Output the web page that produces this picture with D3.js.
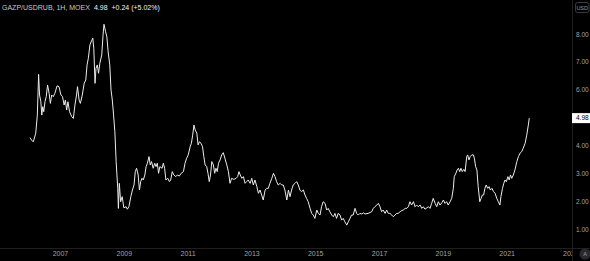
<!DOCTYPE html>
<html>
<head>
<meta charset="utf-8">
<script src="https://cdn.jsdelivr.net/npm/d3@7"></script>
<style>
  html, body { margin: 0; padding: 0; background: #000; }
  svg { display: block; font-family: "Liberation Sans", Arial, sans-serif; }
</style>
</head>
<body>
<svg width="590" height="261"></svg>
<script>
// GAZP/USDRUB, values (decimal years / price in USD)
let dates = [
  2006.06,2006.11,2006.16,2006.19,2006.24,2006.29,2006.33,2006.36,2006.40,2006.43,2006.46,2006.49,2006.53,2006.57,2006.61,2006.66,2006.70,2006.74,2006.79,2006.84,2006.91,2006.97,
  2007.03,2007.08,2007.13,2007.17,2007.21,2007.25,2007.30,2007.37,2007.42,2007.47,2007.52,2007.55,2007.60,2007.64,2007.70,2007.76,2007.81,2007.85,2007.89,2007.94,2007.99,
  2008.03,2008.06,2008.10,2008.13,2008.17,2008.21,2008.25,2008.31,2008.35,2008.38,2008.43,2008.47,2008.51,2008.56,2008.60,2008.64,2008.68,2008.72,2008.76,2008.81,2008.83,2008.86,2008.90,2008.95,
  2009.00,2009.07,2009.11,2009.16,2009.22,2009.27,2009.32,2009.36,2009.40,2009.45,2009.49,2009.53,2009.57,2009.61,2009.66,2009.70,2009.74,2009.79,2009.83,2009.87,2009.92,2009.97,
  2010.01,2010.05,2010.09,2010.13,2010.20,2010.24,2010.28,2010.32,2010.38,2010.43,2010.47,2010.52,2010.57,2010.63,2010.68,2010.74,2010.80,2010.87,2010.92,2010.97,
  2011.02,2011.08,2011.12,2011.16,2011.20,2011.24,2011.29,2011.33,2011.37,2011.42,2011.47,2011.51,2011.55,2011.60,2011.64,2011.68,2011.72,2011.76,2011.81,2011.85,2011.89,2011.93,2011.97,
  2012.02,2012.07,2012.12,2012.17,2012.23,2012.28,2012.33,2012.38,2012.45,2012.52,2012.57,2012.61,2012.65,2012.70,2012.75,2012.80,2012.85,2012.90,2012.96,
  2013.01,2013.06,2013.11,2013.17,2013.22,2013.27,2013.32,2013.37,2013.43,2013.48,2013.53,2013.58,2013.64,2013.69,2013.74,2013.79,2013.84,2013.90,2013.95,
  2014.00,2014.05,2014.11,2014.16,2014.21,2014.26,2014.31,2014.37,2014.42,2014.47,2014.52,2014.57,2014.63,2014.68,2014.73,2014.78,2014.84,2014.89,2014.94,2014.99,
  2015.05,2015.10,2015.15,2015.20,2015.25,2015.31,2015.36,2015.41,2015.46,2015.52,2015.57,2015.62,2015.67,2015.72,2015.78,2015.83,2015.88,2015.93,2015.99,
  2016.04,2016.09,2016.14,2016.19,2016.25,2016.30,2016.35,2016.40,2016.46,2016.51,2016.56,2016.66,2016.77,2016.82,2016.87,2016.93,2016.98,
  2017.03,2017.08,2017.13,2017.19,2017.24,2017.29,2017.34,2017.40,2017.45,2017.50,2017.55,2017.60,2017.66,2017.71,2017.76,2017.82,2017.87,2017.92,2017.97,
  2018.02,2018.08,2018.13,2018.18,2018.23,2018.29,2018.34,2018.39,2018.44,2018.50,2018.55,2018.60,2018.65,2018.70,2018.76,2018.81,2018.86,2018.91,2018.97,
  2019.02,2019.07,2019.12,2019.17,2019.23,2019.28,2019.33,2019.36,2019.41,2019.45,2019.49,2019.53,2019.57,2019.61,2019.66,2019.70,2019.75,2019.78,2019.82,2019.86,2019.91,2019.96,2019.99,
  2020.03,2020.07,2020.11,2020.16,2020.20,2020.24,2020.28,2020.32,2020.36,2020.41,2020.45,2020.49,2020.54,2020.59,2020.64,2020.69,2020.74,2020.79,2020.82,2020.87,2020.91,2020.95,2020.99,
  2021.04,2021.08,2021.12,2021.16,2021.21,2021.26,2021.32,2021.37,2021.42,2021.47,2021.52,2021.58,2021.63,2021.68,2021.71
];
let prices = [
  4.28,4.19,4.13,4.23,4.44,5.09,6.55,5.81,5.57,5.09,5.39,5.21,5.57,5.75,6.17,5.87,5.51,5.81,5.75,5.87,6.14,6.11,
  5.81,5.75,5.45,5.63,5.27,5.57,5.21,5.03,4.97,5.45,5.81,6.11,5.63,5.51,5.81,6.23,6.35,6.89,7.13,7.61,7.75,
  7.85,7.49,6.23,6.77,6.89,6.59,6.95,7.25,7.96,8.35,8.08,7.90,7.36,6.89,5.99,5.63,5.09,4.49,3.42,2.46,1.74,2.64,1.98,2.16,
  1.76,1.80,1.71,1.80,2.16,2.40,2.58,3.06,3.18,2.94,2.40,2.70,2.82,2.76,2.94,3.24,3.36,3.60,3.30,3.42,3.18,3.36,
  3.24,3.36,3.00,3.24,3.18,3.36,3.18,2.76,2.82,2.70,2.76,3.06,2.94,2.88,2.94,2.90,3.00,3.06,3.36,3.54,
  3.66,3.95,4.08,4.37,4.73,4.55,4.44,4.02,4.13,4.08,3.95,3.60,3.30,3.24,3.00,2.70,2.94,3.42,3.30,3.00,3.18,3.06,3.36,
  3.48,3.66,3.74,3.54,3.30,3.06,2.64,2.82,2.78,2.82,2.88,3.06,2.94,2.82,2.88,2.64,2.70,2.76,2.64,
  2.82,2.58,2.76,2.52,2.28,2.40,2.22,2.04,2.40,2.46,2.46,2.64,2.82,3.00,2.88,2.70,2.58,2.64,2.58,
  2.58,2.40,2.04,2.40,2.16,2.40,2.58,2.64,2.70,2.58,2.40,2.34,2.40,2.22,2.10,1.98,1.74,1.56,1.50,1.38,
  1.68,1.56,1.50,1.80,1.98,1.92,1.68,1.74,1.62,1.50,1.44,1.56,1.38,1.56,1.50,1.32,1.38,1.26,1.14,
  1.26,1.38,1.50,1.50,1.74,1.56,1.50,1.56,1.54,1.58,1.54,1.56,1.62,1.74,1.80,1.86,1.92,
  1.80,1.62,1.68,1.56,1.68,1.56,1.56,1.50,1.44,1.50,1.56,1.56,1.62,1.66,1.68,1.74,1.74,1.80,1.98,
  1.86,1.98,1.80,1.86,1.80,1.86,1.74,1.80,1.71,1.76,1.80,1.74,1.92,2.10,1.92,1.80,1.98,1.86,1.94,
  2.04,1.92,1.98,1.86,1.98,2.10,2.46,2.88,3.00,3.12,3.18,3.06,3.18,3.06,3.14,3.06,3.60,3.66,3.48,3.60,3.66,3.66,3.54,
  3.24,3.12,2.52,1.98,2.10,2.22,2.22,2.46,2.58,2.46,2.52,2.40,2.46,2.34,2.28,2.10,1.98,1.86,2.16,2.46,2.64,2.76,2.70,
  2.88,2.76,2.94,2.82,2.94,3.12,3.42,3.60,3.72,3.77,3.90,4.08,4.37,4.73,4.98
];
let yearTicks = [2007, 2009, 2011, 2013, 2015, 2017, 2019, 2021, 2023];
let priceTicks = [1, 2, 3, 4, 5, 6, 7, 8];
let title = "GAZP/USDRUB, 1H, MOEX";
let lastChange = "+0.24 (+5.02%)";

let width = 590, height = 261;
let plotW = 572, plotH = 248;

// decimal year -> Date
function fromDecimal(v) {
  let yr = Math.floor(v);
  let s = Date.UTC(yr, 0, 1), e = Date.UTC(yr + 1, 0, 1);
  return new Date(s + (v - yr) * (e - s));
}

let data = dates.map((d, i) => ({ date: fromDecimal(d), price: prices[i] }));

let svg = d3.select('svg');

svg.append('rect')
  .attr('width', width).attr('height', height)
  .attr('fill', '#000');

let x = d3.scaleUtc()
  .domain([fromDecimal(2005.119), fromDecimal(2023.05)])
  .range([0, plotW]);
let y = d3.scaleLinear()
  .domain([1, 8])
  .range([229, 34]);

// time axis
let xAxis = svg.append('g')
  .attr('transform', `translate(0,${plotH})`)
  .call(d3.axisBottom(x)
    .tickValues(yearTicks.map(t => new Date(Date.UTC(t, 0, 1))))
    .tickFormat(d3.utcFormat('%Y'))
    .tickSize(0)
    .tickPadding(3.5));
xAxis.select('.domain').remove();
xAxis.selectAll('text')
  .attr('fill', '#a3a3a3')
  .style('font-size', '7px');

// price line
svg.append('path')
  .datum(data)
  .attr('fill', 'none')
  .attr('stroke', '#ececec')
  .attr('stroke-width', 1)
  .attr('stroke-linejoin', 'round')
  .attr('d', d3.line()
    .x(d => x(d.date))
    .y(d => y(d.price)));

// price scale panel (hides what runs under it)
svg.append('rect')
  .attr('x', plotW).attr('y', 0)
  .attr('width', width - plotW).attr('height', height)
  .attr('fill', '#000');

svg.append('line')
  .attr('x1', 0).attr('x2', width)
  .attr('y1', plotH + 0.5).attr('y2', plotH + 0.5)
  .attr('stroke', '#1f1f1f');
svg.append('line')
  .attr('x1', plotW + 0.5).attr('x2', plotW + 0.5)
  .attr('y1', 0).attr('y2', height)
  .attr('stroke', '#1f1f1f');

let yAxis = svg.append('g')
  .attr('transform', `translate(${plotW},0)`)
  .call(d3.axisRight(y)
    .tickValues(priceTicks)
    .tickFormat(d3.format('.2f'))
    .tickSize(0)
    .tickPadding(4));
yAxis.select('.domain').remove();
yAxis.selectAll('text')
  .attr('fill', '#a3a3a3')
  .style('font-size', '6.5px');

// last price label
let last = data[data.length - 1];
svg.append('rect')
  .attr('x', plotW).attr('y', y(last.price) - 5)
  .attr('width', width - plotW).attr('height', 10)
  .attr('fill', '#fff');
svg.append('text')
  .attr('x', plotW + 4).attr('y', y(last.price))
  .attr('dy', '0.35em')
  .attr('fill', '#000')
  .style('font-size', '6.5px')
  .text(d3.format('.2f')(last.price));

// currency box
svg.append('rect')
  .attr('x', 575.5).attr('y', 2.5)
  .attr('width', 13.5).attr('height', 10)
  .attr('rx', 2)
  .attr('fill', 'none')
  .attr('stroke', '#3a3a3a');
svg.append('text')
  .attr('x', 582.2).attr('y', 9.6)
  .attr('text-anchor', 'middle')
  .attr('fill', '#9a9a9a')
  .style('font-size', '5.5px')
  .text('USD');

// auto scale button
svg.append('circle')
  .attr('cx', 585).attr('cy', 254).attr('r', 5.5)
  .attr('fill', '#2a2a2e');
svg.append('text')
  .attr('x', 585).attr('y', 256)
  .attr('text-anchor', 'middle')
  .attr('fill', '#9a9a9a')
  .style('font-size', '5.5px')
  .text('A');

// legend line
let legend = svg.append('text')
  .attr('x', 2).attr('y', 9.5)
  .style('font-size', '7px');
legend.append('tspan').attr('fill', '#c8c8c8').text(title);
legend.append('tspan').attr('dx', 4).attr('fill', '#f2f2f2').text(d3.format('.2f')(last.price));
legend.append('tspan').attr('dx', 4).attr('fill', '#f2f2f2').text(lastChange);
</script>
</body>
</html>
